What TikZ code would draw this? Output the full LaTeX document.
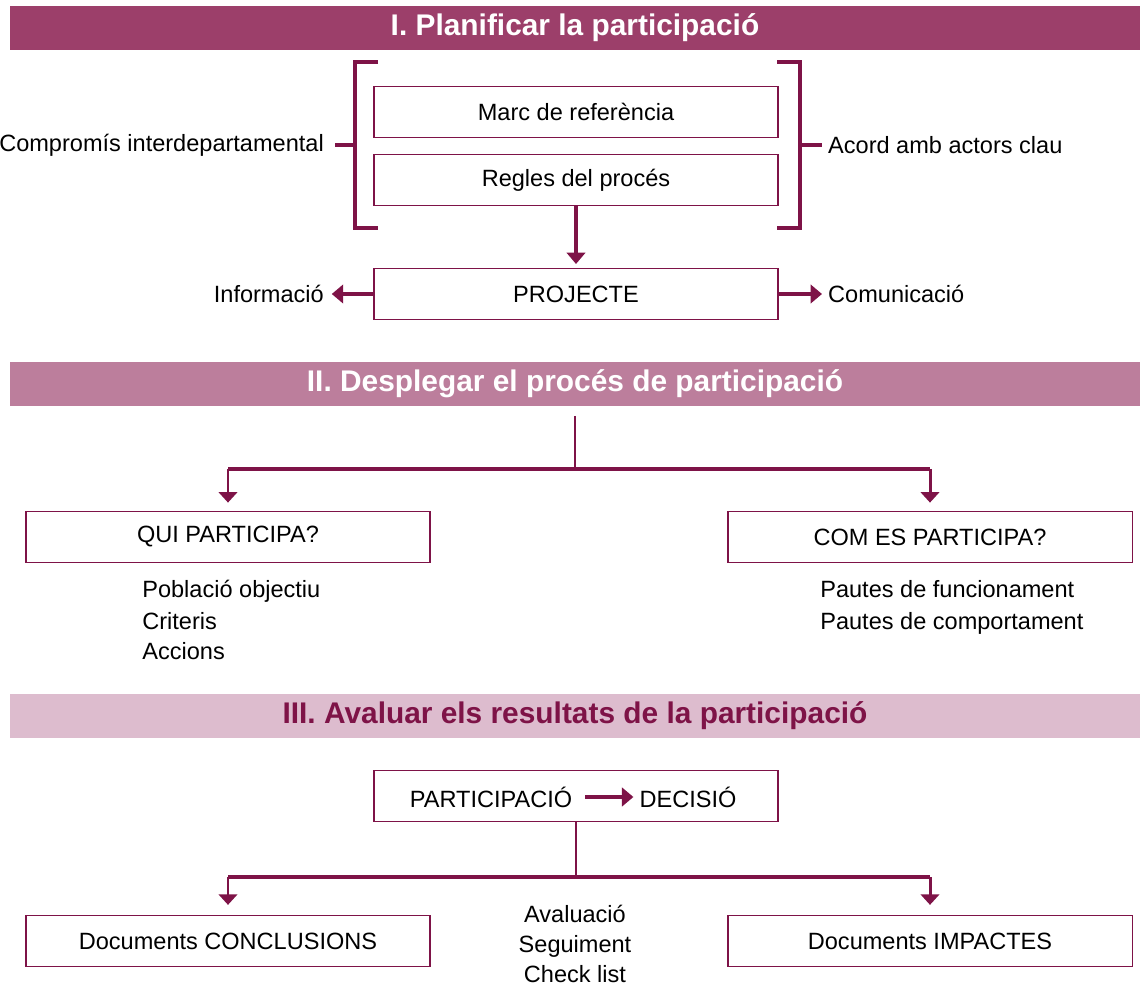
\documentclass[tikz,border=0pt]{standalone}
\usepackage{fontspec}
\setmainfont{Liberation Sans}
\usetikzlibrary{arrows.meta}

\definecolor{plum}{HTML}{7E1347}
\definecolor{bandA}{HTML}{9C3F6A}
\definecolor{bandB}{HTML}{BC7E9C}
\definecolor{bandC}{HTML}{DDBCCE}

\tikzset{
    box/.style={draw=plum, line width=1.1pt, minimum width=8.08cm, minimum height=1.02cm, font=\fontsize{13.4}{15}\selectfont},
    band/.style={minimum width=22.6cm, minimum height=0.88cm, inner sep=0pt, font=\fontsize{17}{20}\selectfont\bfseries},
    txt/.style={font=\fontsize{13.4}{15}\selectfont},
    brace/.style={draw=plum, line width=2.3pt},
    link/.style={draw=plum, line width=2.4pt, -{Triangle[width=10.5pt,length=6.5pt]}},
    stem/.style={draw=plum, line width=1.7pt},
    bar/.style={draw=plum, line width=2.4pt},
    drop/.style={draw=plum, line width=1.7pt, -{Triangle[width=10.5pt,length=6pt]}}
}

\begin{document}
\begin{tikzpicture}[x=0.02cm, y=-0.02cm]
        \useasboundingbox (0,0) rectangle (1140,986);

        % I. Planificar
        \node[band, fill=bandA, text=white] (bandI) at (575,28) {I. Planificar la participació};
        \node[box] (marc) at (576,112) {Marc de referència};
        \node[box] (regles) at (576,180) {Regles del procés};
        \node[box] (projecte) at (576,294) {PROJECTE};
        \node[txt, anchor=east] (comp) at (330,145) {Compromís interdepartamental};
        \node[txt, anchor=west] (acord) at (822,145) {Acord amb actors clau};
        \node[txt, anchor=east] (info) at (330,294) {Informació};
        \node[txt, anchor=west] (comu) at (822,294) {Comunicació};
        \coordinate (brLtop) at (378,62);
        \coordinate (brLbot) at (378,228);
        \coordinate (brLmid) at (355,145);
        \coordinate (brRtop) at (777,62);
        \coordinate (brRbot) at (777,228);
        \coordinate (brRmid) at (800,145);
        \draw[brace] (brLtop) -- ++(-23,0) |- (brLbot);
        \draw[brace] (brRtop) -- ++(23,0) |- (brRbot);
        \draw[brace, shorten <=3pt] (comp.east) -- (brLmid);
        \draw[brace] (brRmid) -- (acord.west);
        \draw[link, shorten >=2pt] (regles.south) -- (projecte.north);
        \draw[link, shorten >=1pt] (projecte.west) -- (projecte.west -| info.east);
        \draw[link] (projecte.east) -- (projecte.east -| comu.west);

        % II. Desplegar
        \node[band, fill=bandB, text=white] (bandII) at (575,384) {II. Desplegar el procés de participació};
        \node[box, minimum width=8.1cm] (qui) at (228,537) {QUI PARTICIPA?};
        \node[box, minimum width=8.1cm] (com) at (930,537) {COM ES PARTICIPA?};
        \coordinate (stemII) at (575,416);
        \coordinate (forkIIL) at (228,469);
        \coordinate (forkIIR) at (930,469);
        \draw[stem] (stemII) -- (stemII |- forkIIL);
        \draw[bar] (forkIIL) -- (forkIIR);
        \draw[drop, shorten >=4.5pt] (forkIIL) -- (qui.north);
        \draw[drop, shorten >=4.5pt] (forkIIR) -- (com.north);
        \node[txt, anchor=base west, inner sep=0pt] (poblacio) at (142,598) {Població objectiu};
        \node[txt, anchor=base west, inner sep=0pt] (criteris) at (142,629) {Criteris};
        \node[txt, anchor=base west, inner sep=0pt] (accions) at (142,659) {Accions};
        \node[txt, anchor=base west, inner sep=0pt] (pautesF) at (820,598) {Pautes de funcionament};
        \node[txt, anchor=base west, inner sep=0pt] (pautesC) at (820,629) {Pautes de comportament};

        % III. Avaluar
        \node[band, fill=bandC, text=plum] (bandIII) at (575,716) {III. Avaluar els resultats de la participació};
        \node[box] (decbox) at (576,796) {};
        \node[txt] (partA) at (491,797) {PARTICIPACIÓ};
        \node[txt] (partB) at (688,797) {DECISIÓ};
        \draw[link, shorten <=4pt] (partA.east) -- (partB.west);
        \node[box, minimum width=8.1cm] (concl) at (228,941) {Documents CONCLUSIONS};
        \node[box, minimum width=8.1cm] (impac) at (930,941) {Documents IMPACTES};
        \coordinate (forkIIIL) at (228,877);
        \coordinate (forkIIIR) at (930,877);
        \draw[stem] (decbox.south) -- (decbox.south |- forkIIIL);
        \draw[bar] (forkIIIL) -- (forkIIIR);
        \draw[drop, shorten >=5.5pt] (forkIIIL) -- (concl.north);
        \draw[drop, shorten >=5.5pt] (forkIIIR) -- (impac.north);
        \node[txt, anchor=base, inner sep=0pt] (avaluacio) at (575,922) {Avaluació};
        \node[txt, anchor=base, inner sep=0pt] (seguiment) at (575,952) {Seguiment};
        \node[txt, anchor=base, inner sep=0pt] (check) at (575,982) {Check list};
    \end{tikzpicture}
\end{document}
